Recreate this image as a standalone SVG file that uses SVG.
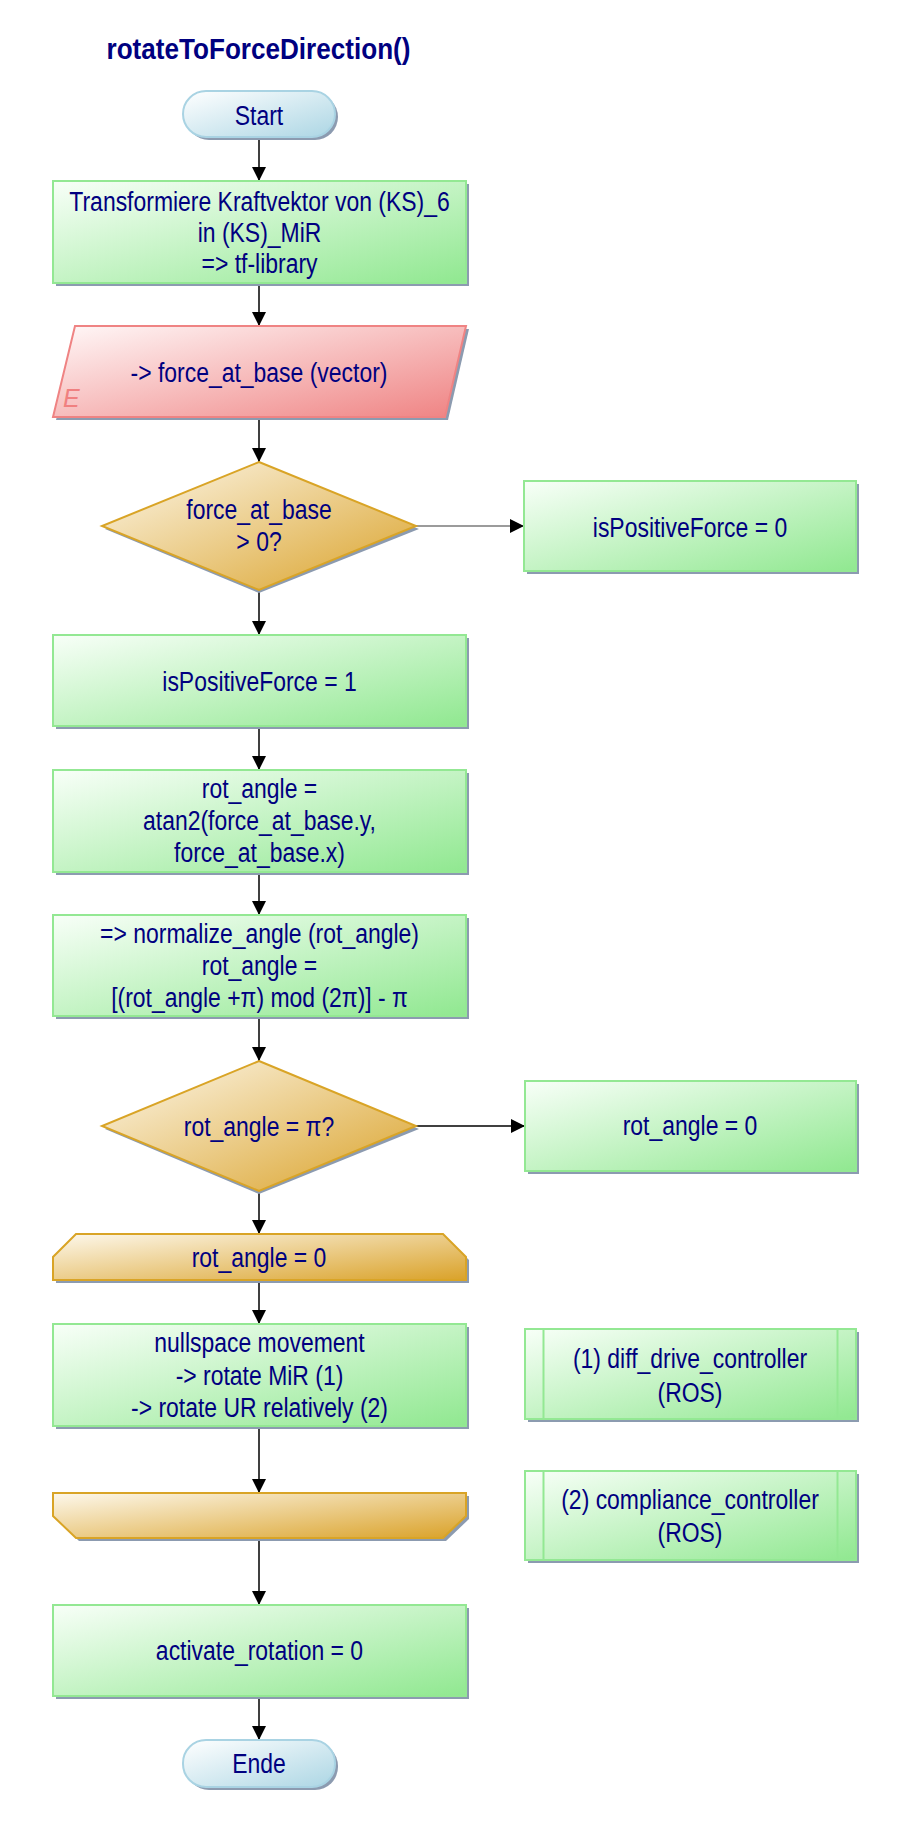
<svg xmlns="http://www.w3.org/2000/svg" width="907" height="1830" viewBox="0 0 907 1830">
<defs>
<linearGradient id="gGreen" x1="0" y1="0" x2="1" y2="1"><stop offset="0" stop-color="#f8fff8"/><stop offset="1" stop-color="#90e890"/></linearGradient>
<linearGradient id="gGold" x1="0" y1="0" x2="1" y2="1"><stop offset="0" stop-color="#fdf8ec"/><stop offset="1" stop-color="#daa229"/></linearGradient>
<linearGradient id="gBlue" x1="0" y1="0" x2="1" y2="1"><stop offset="0" stop-color="#ffffff"/><stop offset="1" stop-color="#acd6e4"/></linearGradient>
<linearGradient id="gRed" x1="0" y1="0" x2="1" y2="1"><stop offset="0" stop-color="#fff8f8"/><stop offset="1" stop-color="#ef8282"/></linearGradient>
<marker id="arr" markerUnits="userSpaceOnUse" markerWidth="14" markerHeight="14" refX="14" refY="7" orient="auto"><path d="M0,0 L14,7 L0,14 z" fill="#000"/></marker>
</defs>
<style>
.sh{fill:#8c9bb0}
.green{fill:url(#gGreen);stroke:#93e893;stroke-width:2}
.gold{fill:url(#gGold);stroke:#d9a426;stroke-width:2}
.blue{fill:url(#gBlue);stroke:#a9d3e3;stroke-width:2}
.red{fill:url(#gRed);stroke:#ef8383;stroke-width:2}
.t{font-family:"Liberation Sans",Arial,sans-serif;font-size:27px;fill:#000080;text-anchor:middle}
.ttl{font-family:"Liberation Sans",Arial,sans-serif;font-size:30px;font-weight:bold;fill:#000080;text-anchor:middle}
.con{stroke:#000;stroke-width:1.5;fill:none;marker-end:url(#arr)}
</style>
<rect width="907" height="1830" fill="#fff"/>
<g id="title"><g transform="matrix(0.87 0 0 1 258.5 0)"><text class="ttl" x="0" y="59">rotateToForceDirection()</text></g></g>

<g id="connectors">
<line class="con" x1="259" y1="137" x2="259" y2="181"/>
<line class="con" x1="259" y1="283" x2="259" y2="326"/>
<line class="con" x1="259" y1="417" x2="259" y2="462"/>
<line class="con" x1="416" y1="526" x2="524" y2="526" style="stroke:#7a7a7a"/>
<line class="con" x1="259" y1="590" x2="259" y2="635"/>
<line class="con" x1="259" y1="726" x2="259" y2="770"/>
<line class="con" x1="259" y1="872" x2="259" y2="915"/>
<line class="con" x1="259" y1="1016" x2="259" y2="1061"/>
<line class="con" x1="416" y1="1126" x2="525" y2="1126"/>
<line class="con" x1="259" y1="1191" x2="259" y2="1234"/>
<line class="con" x1="259" y1="1280" x2="259" y2="1324"/>
<line class="con" x1="259" y1="1426" x2="259" y2="1493"/>
<line class="con" x1="259" y1="1538" x2="259" y2="1605"/>
<line class="con" x1="259" y1="1696" x2="259" y2="1740"/>
</g>

<g id="start">
<rect class="sh" x="186" y="94" width="152" height="46" rx="23"/>
<rect class="blue" x="183" y="91" width="152" height="46" rx="23"/>
<g transform="matrix(0.85 0 0 1 259 0)"><text class="t" x="0" y="125">Start</text></g>
</g>

<g id="transform">
<rect class="sh" x="56" y="184" width="413" height="102"/>
<rect class="green" x="53" y="181" width="413" height="102"/>
<g transform="matrix(0.85 0 0 1 259.5 0)"><text class="t" x="0" y="211">Transformiere Kraftvektor von (KS)_6</text><text class="t" x="0" y="242">in (KS)_MiR</text><text class="t" x="0" y="273">=&gt; tf-library</text></g>
</g>

<g id="input">
<polygon class="sh" points="78,329 469,329 448,420 56,420"/>
<polygon class="red" points="75,326 466,326 445,417 53,417"/>
<text x="63" y="407" style="font-family:'Liberation Sans',Arial,sans-serif;font-size:25px;font-style:italic;fill:#f08080">E</text>
<g transform="matrix(0.85 0 0 1 259 0)"><text class="t" x="0" y="382">-&gt; force_at_base (vector)</text></g>
</g>

<g id="decision1">
<polygon class="sh" points="259,465 419,529 259,593 105,529"/>
<polygon class="gold" points="259,462 416,526 259,590 102,526"/>
<g transform="matrix(0.85 0 0 1 259 0)"><text class="t" x="0" y="519">force_at_base</text><text class="t" x="0" y="551">&gt; 0?</text></g>
</g>

<g id="posforce0">
<rect class="sh" x="527" y="484" width="332" height="90"/>
<rect class="green" x="524" y="481" width="332" height="90"/>
<g transform="matrix(0.85 0 0 1 690 0)"><text class="t" x="0" y="537">isPositiveForce = 0</text></g>
</g>

<g id="posforce1">
<rect class="sh" x="56" y="638" width="413" height="91"/>
<rect class="green" x="53" y="635" width="413" height="91"/>
<g transform="matrix(0.85 0 0 1 259.5 0)"><text class="t" x="0" y="691">isPositiveForce = 1</text></g>
</g>

<g id="atan">
<rect class="sh" x="56" y="773" width="413" height="102"/>
<rect class="green" x="53" y="770" width="413" height="102"/>
<g transform="matrix(0.85 0 0 1 259.5 0)"><text class="t" x="0" y="798">rot_angle =</text><text class="t" x="0" y="830">atan2(force_at_base.y,</text><text class="t" x="0" y="862">force_at_base.x)</text></g>
</g>

<g id="normalize">
<rect class="sh" x="56" y="918" width="413" height="101"/>
<rect class="green" x="53" y="915" width="413" height="101"/>
<g transform="matrix(0.85 0 0 1 259.5 0)"><text class="t" x="0" y="943">=&gt; normalize_angle (rot_angle)</text><text class="t" x="0" y="975">rot_angle =</text><text class="t" x="0" y="1007">[(rot_angle +π) mod (2π)] - π</text></g>
</g>

<g id="decision2">
<polygon class="sh" points="259,1064 419,1129 259,1194 105,1129"/>
<polygon class="gold" points="259,1061 416,1126 259,1191 102,1126"/>
<g transform="matrix(0.85 0 0 1 259 0)"><text class="t" x="0" y="1136">rot_angle = π?</text></g>
</g>

<g id="rotzero">
<rect class="sh" x="528" y="1084" width="331" height="90"/>
<rect class="green" x="525" y="1081" width="331" height="90"/>
<g transform="matrix(0.85 0 0 1 690 0)"><text class="t" x="0" y="1135">rot_angle = 0</text></g>
</g>

<g id="loopstart">
<polygon class="sh" points="79,1237 446,1237 469,1260 469,1283 56,1283 56,1260"/>
<polygon class="gold" points="76,1234 443,1234 466,1257 466,1280 53,1280 53,1257"/>
<g transform="matrix(0.85 0 0 1 259 0)"><text class="t" x="0" y="1267">rot_angle = 0</text></g>
</g>

<g id="nullspace">
<rect class="sh" x="56" y="1327" width="413" height="102"/>
<rect class="green" x="53" y="1324" width="413" height="102"/>
<g transform="matrix(0.85 0 0 1 259.5 0)"><text class="t" x="0" y="1352">nullspace movement</text><text class="t" x="0" y="1385">-&gt; rotate MiR (1)</text><text class="t" x="0" y="1417">-&gt; rotate UR relatively (2)</text></g>
</g>

<g id="diffdrive">
<rect class="sh" x="528" y="1332" width="331" height="90"/>
<rect class="green" x="525" y="1329" width="331" height="90"/>
<line x1="543.5" y1="1329" x2="543.5" y2="1419" stroke="#93e893" stroke-width="2"/>
<line x1="837.5" y1="1329" x2="837.5" y2="1419" stroke="#93e893" stroke-width="2"/>
<g transform="matrix(0.85 0 0 1 690 0)"><text class="t" x="0" y="1368">(1) diff_drive_controller</text><text class="t" x="0" y="1402">(ROS)</text></g>
</g>

<g id="compliance">
<rect class="sh" x="528" y="1474" width="331" height="89"/>
<rect class="green" x="525" y="1471" width="331" height="89"/>
<line x1="543.5" y1="1471" x2="543.5" y2="1560" stroke="#93e893" stroke-width="2"/>
<line x1="837.5" y1="1471" x2="837.5" y2="1560" stroke="#93e893" stroke-width="2"/>
<g transform="matrix(0.85 0 0 1 690 0)"><text class="t" x="0" y="1509">(2) compliance_controller</text><text class="t" x="0" y="1542">(ROS)</text></g>
</g>

<g id="loopend">
<polygon class="sh" points="56,1496 469,1496 469,1519 446,1541 79,1541 56,1519"/>
<polygon class="gold" points="53,1493 466,1493 466,1516 443,1538 76,1538 53,1516"/>
</g>

<g id="activate">
<rect class="sh" x="56" y="1608" width="413" height="91"/>
<rect class="green" x="53" y="1605" width="413" height="91"/>
<g transform="matrix(0.85 0 0 1 259.5 0)"><text class="t" x="0" y="1660">activate_rotation = 0</text></g>
</g>

<g id="end">
<rect class="sh" x="186" y="1743" width="152" height="47" rx="23"/>
<rect class="blue" x="183" y="1740" width="152" height="47" rx="23"/>
<g transform="matrix(0.85 0 0 1 259 0)"><text class="t" x="0" y="1773">Ende</text></g>
</g>
</svg>
